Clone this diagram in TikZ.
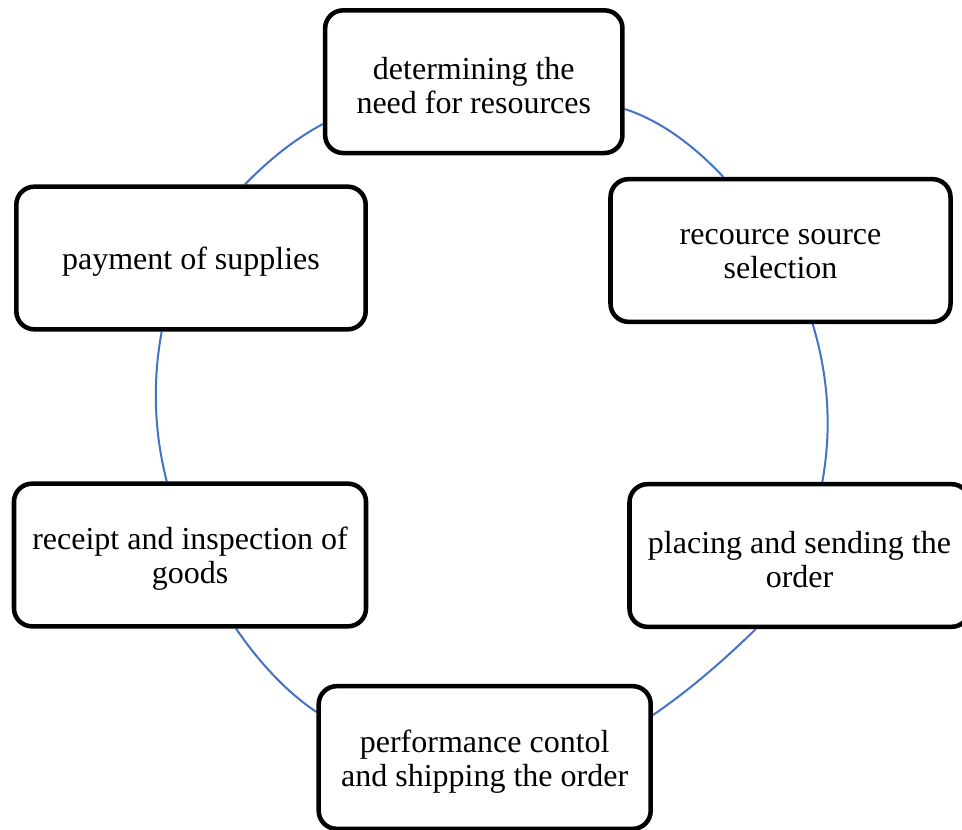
\documentclass[tikz,border=0pt]{standalone}
\usepackage{fontspec}
\setmainfont{Liberation Serif}
\usetikzlibrary{backgrounds}
\definecolor{ringblue}{HTML}{4472C4}
\begin{document}
\begin{tikzpicture}[x=0.75pt,y=-0.75pt,
  stepbox/.style={draw=black,fill=white,line width=3.4pt,rounded corners=13.5pt,
    minimum height=107pt,inner sep=0pt},
  steptext/.style={align=center,inner sep=0pt,yshift=-3pt,
    font=\fontsize{24}{25.5}\selectfont},
  ring/.style={draw=ringblue,line width=1.5pt}]
\clip (0,0) rectangle (962,830);
% the six steps of the cycle
\node[stepbox,minimum width=223pt,
  label={[steptext]center:determining the\\need for resources}] (need) at (473.8,81.7) {};
\node[stepbox,minimum width=255pt,
  label={[steptext]center:recource source\\selection}] (source) at (780.5,250.5) {};
\node[stepbox,minimum width=255pt,
  label={[steptext]center:placing and sending the\\order}] (order) at (799.5,555.5) {};
\node[stepbox,minimum width=249pt,
  label={[steptext]center:performance contol\\and shipping the order}] (ship) at (484.7,757.5) {};
\node[stepbox,minimum width=264pt,
  label={[steptext]center:receipt and inspection of\\goods}] (receipt) at (190,555) {};
\node[stepbox,minimum width=262pt,
  label={[steptext]center:payment of supplies}] (payment) at (191,258) {};
% arcs of the cycle ring, running behind the boxes
\begin{scope}[on background layer]
\fill[white] (0,0) rectangle (962,830);
\draw[ring] (need.east |- 0,109) .. controls (656.6,119.4) and (690.0,141.4) .. (723.3,0 |- source.north);
\draw[ring] (812.7,0 |- source.south) .. controls (828.6,376.8) and (831.8,429.4) .. (822.3,0 |- order.north);
\draw[ring] (755.7,0 |- order.south) .. controls (720.1,663.9) and (685.9,692.6) .. (ship.east |- 0,715);
\draw[ring] (ship.west |- 0,712) .. controls (288.0,692.9) and (261.0,664.9) .. (236,0 |- receipt.south);
\draw[ring] (166.7,0 |- receipt.north) .. controls (154.1,431.7) and (152.4,381.7) .. (161.7,0 |- payment.south);
\draw[ring] (245,0 |- payment.north) .. controls (270.0,158.7) and (296.1,138.3) .. (need.west |- 0,124);
\end{scope}
\end{tikzpicture}
\end{document}
